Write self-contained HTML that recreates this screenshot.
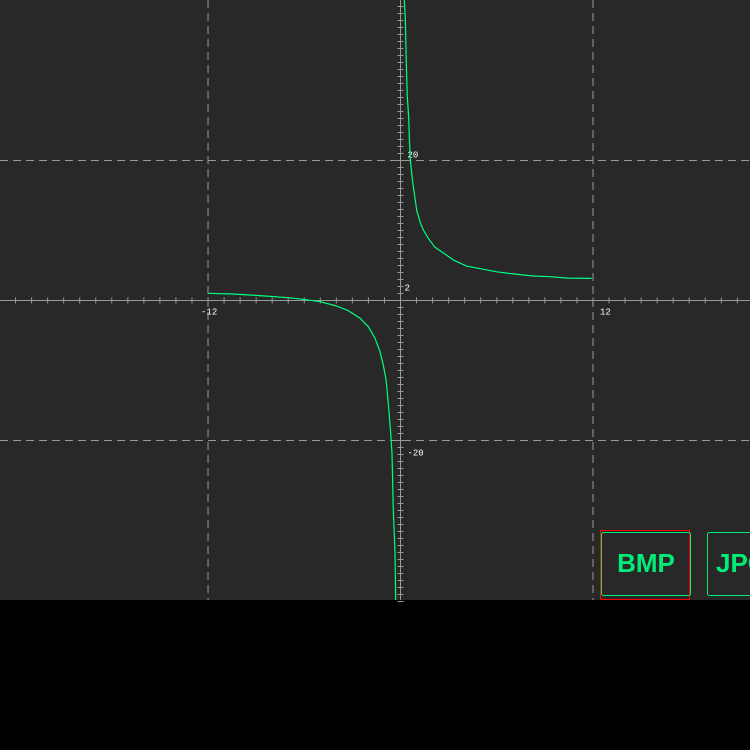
<!DOCTYPE html>
<html><head><meta charset="utf-8"><style>
html,body{margin:0;padding:0;background:#000;width:750px;height:750px;overflow:hidden}
svg{display:block}
</style></head><body>
<svg width="750" height="750">
<rect x="0" y="0" width="750" height="600" fill="#282828"/>
<g id="grid"></g>
<g id="axes"></g>
<g id="labels" font-family="Liberation Mono, monospace" font-size="9" fill="#fff"></g>
<g id="curves"></g>
<g>
<rect x="600.5" y="530.5" width="89" height="69" fill="none" stroke="#f00" stroke-width="1"/>
<rect x="601.5" y="532.5" width="89" height="63" rx="2" fill="none" stroke="#00ee77" stroke-width="1"/>
<text x="646" y="572" text-anchor="middle" font-family="Liberation Sans, sans-serif" font-weight="bold" font-size="26" fill="#00ee77">BMP</text>
</g>
<g>
<rect x="707.5" y="532.5" width="80" height="63" rx="2" fill="none" stroke="#00ee77" stroke-width="1"/>
<text x="716" y="572" font-family="Liberation Sans, sans-serif" font-weight="bold" font-size="26" fill="#00ee77">JPG</text>
</g>
</svg>
<script>
const xTicks=[-12,12];
const yTicks=[-20,20];
const xTickLabels=["-12","12"];
const yTickLabels=["-20","20"];
const rightX=[0.24,0.30,0.36,0.42,0.51,0.55,0.61,0.74,0.89,1.01,1.22,1.42,1.73,2.15,2.67,3.29,4.13,4.86,6.0,7.01,8.26,9.32,10.44,11.92];
const rightY=[42.9,40.5,34.1,29.4,26.1,23.4,20.1,17.2,14.8,12.9,11.2,10.1,8.9,7.6,6.8,5.8,4.9,4.6,4.1,3.8,3.5,3.4,3.2,3.15];
const leftX=[-11.98,-10.52,-9.38,-8.45,-7.0,-6.06,-5.02,-3.98,-3.25,-2.52,-2.01,-1.59,-1.28,-1.07,-0.9,-0.74,-0.61,-0.53,-0.45,-0.34,-0.3];
const leftY=[1.03,0.93,0.79,0.64,0.4,0.17,-0.17,-0.79,-1.46,-2.54,-3.74,-5.4,-7.31,-9.21,-11.36,-15.17,-18.97,-21.83,-29.93,-36.11,-42.79];
const NS='http://www.w3.org/2000/svg';
const X0=400.5,Y0=300.5,SX=16.04,SY=7;
const sx=v=>X0+v*SX, sy=v=>Y0-v*SY;
function mk(t,a,p){const e=document.createElementNS(NS,t);for(const k in a)e.setAttribute(k,a[k]);p.appendChild(e);return e;}
const grid=document.getElementById('grid'),axes=document.getElementById('axes'),labels=document.getElementById('labels'),curves=document.getElementById('curves');
xTicks.forEach(v=>{const l=mk('line',{x1:sx(v),x2:sx(v),y1:0,y2:600,stroke:'#999','stroke-dasharray':'8,5'},grid);

});
yTicks.forEach(v=>{const l=mk('line',{x1:0,x2:750,y1:sy(v),y2:sy(v),stroke:'#999','stroke-dasharray':'8,5'},grid);

});
const xa=mk('line',{x1:0,x2:750,y1:Y0,y2:Y0,stroke:'#999'},axes);


const ya=mk('line',{x1:X0,x2:X0,y1:0,y2:600,stroke:'#999'},axes);


for(let i=-25;i<=22;i++){if(i)mk('line',{x1:sx(i),x2:sx(i),y1:Y0-3,y2:Y0+3,stroke:'#999'},axes);}
for(let j=-43;j<=43;j++){if(j)mk('line',{x1:X0-3,x2:X0+3,y1:sy(j),y2:sy(j),stroke:'#999'},axes);}
xTicks.forEach((v,i)=>{const t=mk('text',{x:sx(v)-(v<0?7:-7),y:Y0+14},labels);t.textContent=xTickLabels[i];

});
yTicks.forEach((v,i)=>{const t=mk('text',{x:X0+7,y:sy(v)+(v<0?15:-3)},labels);t.textContent=yTickLabels[i];

});
const t2=mk('text',{x:X0+4,y:sy(2)+4},labels);t2.textContent='2';


function path(xs,ys,name){const d=xs.map((x,i)=>(i?'L':'M')+sx(x).toFixed(1)+','+sy(ys[i]).toFixed(1)).join(' ');
const p=mk('path',{d:d,fill:'none',stroke:'#00ff80','stroke-width':1.2,'stroke-linejoin':'round'},curves);

}
path(rightX,rightY,'curve-right-branch');
path(leftX,leftY,'curve-left-branch');
</script>
</body></html>
